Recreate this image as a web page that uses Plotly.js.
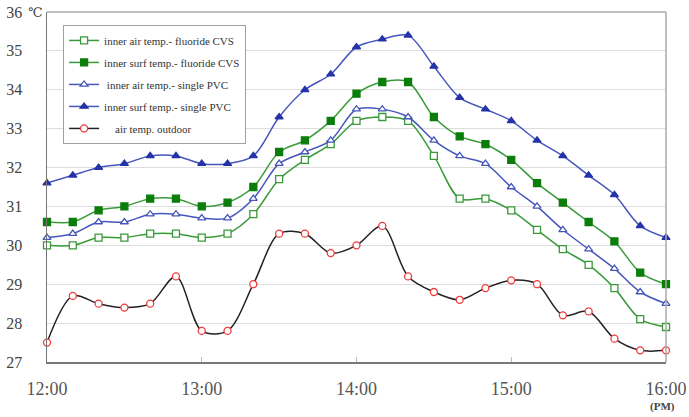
<!DOCTYPE html>
<html>
<head>
<meta charset="utf-8">
<script src="https://cdn.plot.ly/plotly-3.0.1.min.js"></script>
<style>html,body{margin:0;padding:0;background:#fff;}#chart{width:689px;height:417px;}</style>
</head>
<body>
<div id="chart"></div>
<script>
const times = ['12:00','12:10','12:20','12:30','12:40','12:50','13:00','13:10','13:20','13:30','13:40','13:50','14:00','14:10','14:20','14:30','14:40','14:50','15:00','15:10','15:20','15:30','15:40','15:50','16:00'];
const airFluoride  = [30.0,30.0,30.2,30.2,30.3,30.3,30.2,30.3,30.8,31.7,32.2,32.6,33.2,33.3,33.2,32.3,31.2,31.2,30.9,30.4,29.9,29.5,28.9,28.1,27.9];
const surfFluoride = [30.6,30.6,30.9,31.0,31.2,31.2,31.0,31.1,31.5,32.4,32.7,33.2,33.9,34.2,34.2,33.3,32.8,32.6,32.2,31.6,31.1,30.6,30.1,29.3,29.0];
const airPVC       = [30.2,30.3,30.6,30.6,30.8,30.8,30.7,30.7,31.2,32.1,32.4,32.7,33.5,33.5,33.3,32.7,32.3,32.1,31.5,31.0,30.4,29.9,29.4,28.8,28.5];
const surfPVC      = [31.6,31.8,32.0,32.1,32.3,32.3,32.1,32.1,32.3,33.3,34.0,34.4,35.1,35.3,35.4,34.6,33.8,33.5,33.2,32.7,32.3,31.8,31.3,30.5,30.2];
const outdoor      = [27.5,28.7,28.5,28.4,28.5,29.2,27.8,27.8,29.0,30.3,30.3,29.8,30.0,30.5,29.2,28.8,28.6,28.9,29.1,29.0,28.2,28.3,27.6,27.3,27.3];
const seriesNames = ['inner air temp.- fluoride CVS','inner surf temp.- fluoride CVS','\u00a0inner air temp.- single PVC','inner surf temp.- single PVC','\u00a0\u00a0\u00a0\u00a0air temp. outdoor'];
const xTickLabels = ['12:00','13:00','14:00','15:00','16:00'];
const yTickVals = [27,28,29,30,31,32,33,34,35,36];

const day = '2000-01-01 ';
const xs = times.map(t => day + t);
const xTickVals = xTickLabels.map(t => day + t);

const green = '#3a9a3a', greenDark = '#0b7d0b';
const blue = '#4656bb', blueDark = '#2433a8';

function tr(y, name, lineColor, symbol, fill, mline, group) {
  return {
    x: xs, y: y, name: name, type: 'scatter', mode: 'lines+markers',
    legendgroup: group,
    line: {color: lineColor, width: 1.5, shape: 'spline', smoothing: 0.9},
    marker: {symbol: symbol, size: 7, color: fill, line: {color: mline, width: 1.3}},
    cliponaxis: false
  };
}

const data = [
  tr(airFluoride, seriesNames[0], green, 'square', '#ffffff', green, 'a'),
  tr(surfFluoride, seriesNames[1], green, 'square', greenDark, greenDark, 'b'),
  tr(airPVC, seriesNames[2], blue, 'triangle-up', '#ffffff', blue, 'c'),
  tr(surfPVC, seriesNames[3], blue, 'triangle-up', blueDark, blueDark, 'd'),
  tr(outdoor, seriesNames[4], '#222222', 'circle', '#ffffff', '#ee3b3b', 'e')
];

const layout = {
  width: 689, height: 417,
  margin: {l: 47, r: 23, t: 12, b: 55},
  paper_bgcolor: '#ffffff', plot_bgcolor: '#ffffff',
  font: {family: 'Liberation Serif, DejaVu Serif, serif', color: '#444'},
  showlegend: true,
  legend: {
    x: 0.026, y: 0.963, xanchor: 'left', yanchor: 'top',
    bgcolor: '#ffffff', bordercolor: '#a0a0a0', borderwidth: 1,
    font: {size: 11, color: '#333'},
    traceorder: 'grouped', tracegroupgap: 3
  },
  xaxis: {
    type: 'date',
    range: [day + '12:00', day + '16:00'],
    tickmode: 'array', tickvals: xTickVals, ticktext: xTickLabels,
    showgrid: false, zeroline: false,
    showline: true, linecolor: '#777', linewidth: 1.5,
    ticks: 'inside', ticklen: 5, tickcolor: '#bbb',
    tickfont: {size: 18, color: '#555'},
    ticklabelstandoff: 10
  },
  yaxis: {
    range: [27, 36],
    tickmode: 'array', tickvals: yTickVals,
    showgrid: true, gridcolor: '#dddddd', gridwidth: 1,
    zeroline: false,
    showline: true, linecolor: '#777', linewidth: 1.5,
    ticks: '', tickfont: {size: 16, color: '#444'},
    ticklabelstandoff: 20
  },
  shapes: [
    {type: 'line', xref: 'paper', yref: 'paper', x0: 0, x1: 1, y0: 1, y1: 1, line: {color: '#aaaaaa', width: 1.5}},
    {type: 'line', xref: 'paper', yref: 'paper', x0: 1, x1: 1, y0: 0, y1: 1, line: {color: '#aaaaaa', width: 1.5}}
  ],
  annotations: [
    {text: '℃', xref: 'paper', yref: 'paper', x: -0.003, y: 1, xanchor: 'right', yanchor: 'middle', showarrow: false, font: {size: 13, color: '#444', family: 'DejaVu Serif, serif'}},
    {text: '<b>(PM)</b>', xref: 'paper', yref: 'paper', x: 0.995, y: -0.126, xanchor: 'center', yanchor: 'middle', showarrow: false, font: {size: 11, color: '#444'}}
  ]
};

Plotly.newPlot('chart', data, layout, {displayModeBar: false, staticPlot: true});
</script>
</body>
</html>
